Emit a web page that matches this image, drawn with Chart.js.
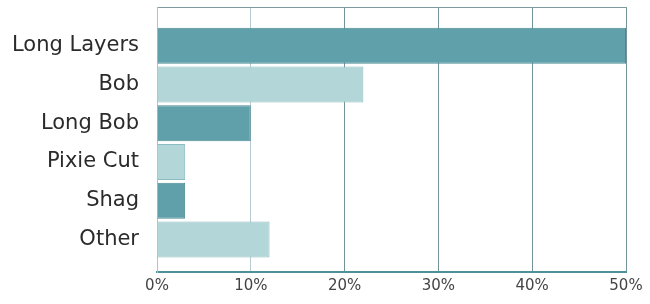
<!DOCTYPE html>
<html lang="en">
<head>
    <meta charset="UTF-8">
    <title>Haircut styles</title>
    <script src="https://cdn.jsdelivr.net/npm/chart.js"></script>
    <style>
        html, body { margin: 0; padding: 0; background: #fff; }
        #wrap { width: 650px; height: 304px; }
    </style>
</head>
<body>
    <div id="wrap"><canvas id="chart"></canvas></div>
    <script>
        // data
        const categories = ["Long Layers", "Bob", "Long Bob", "Pixie Cut", "Shag", "Other"];
        const shares = [50, 22, 10, 3, 3, 12];
        const xTicks = [0, 10, 20, 30, 40, 50];

        const dark = "#60a0aa", darkEdge = "#4b8a93";
        const light = "#b3d6d8", lightEdge = "#8bbcc1";

        // bars sit on a numeric index axis so the top/bottom gaps can differ
        const points = shares.map((v, i) => ({ x: v, y: i }));

        new Chart(document.getElementById("chart"), {
            type: "bar",
            data: {
                datasets: [{
                    data: points,
                    backgroundColor: shares.map((_, i) => i % 2 ? light : dark),
                    borderColor: shares.map((_, i) => i % 2 ? lightEdge : darkEdge),
                    borderWidth: 1,
                    barPercentage: 0.93,
                    categoryPercentage: 1
                }]
            },
            options: {
                indexAxis: "y",
                responsive: true,
                maintainAspectRatio: false,
                animation: false,
                layout: { padding: { top: 7, right: 24, left: 0, bottom: 0 } },
                plugins: {
                    legend: { display: false },
                    tooltip: { enabled: false }
                },
                scales: {
                    x: {
                        type: "linear",
                        min: xTicks[0],
                        max: xTicks[xTicks.length - 1],
                        afterBuildTicks: s => { s.ticks = xTicks.map(v => ({ value: v })); },
                        afterFit: s => { s.height = 32; s.paddingLeft = 0; s.paddingRight = 0; },
                        ticks: {
                            padding: 5,
                            color: "#444",
                            font: { family: "DejaVu Sans", size: 15 },
                            callback: v => v + "%"
                        },
                        grid: {
                            drawTicks: false,
                            color: c => c.tick && c.tick.value === 10 ? "#b9cdd0" : "#72949a",
                            lineWidth: 1
                        },
                        border: { color: "#4f9199", width: 2 }
                    },
                    // empty axis on top, only for the frame line
                    xTop: {
                        type: "linear",
                        position: "top",
                        min: 0,
                        max: 1,
                        afterFit: s => { s.height = 0; s.paddingLeft = 0; s.paddingRight = 0; },
                        ticks: { display: false },
                        grid: { display: false, drawTicks: false },
                        border: { color: "#7f9a9d", width: 1 }
                    },
                    y: {
                        type: "linear",
                        reverse: true,
                        offset: false,
                        min: -1,
                        max: 5.84,
                        afterBuildTicks: s => {
                            s.ticks = categories.map((_, i) => ({ value: i }));
                        },
                        afterFit: s => { s.width = 157; s.paddingTop = 0; s.paddingBottom = 0; },
                        ticks: {
                            autoSkip: false,
                            padding: 18,
                            color: "#2b2b2b",
                            font: { family: "DejaVu Sans", size: 21 },
                            callback: v => categories[v]
                        },
                        grid: { display: false, drawTicks: false },
                        border: { color: "#a9c6c9", width: 1 }
                    }
                }
            }
        });
    </script>
</body>
</html>
